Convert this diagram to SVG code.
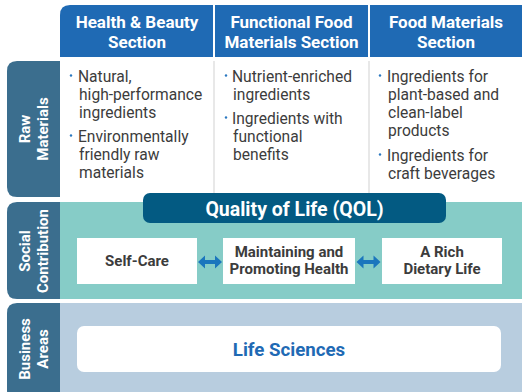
<svg xmlns="http://www.w3.org/2000/svg" width="522" height="392" viewBox="0 0 522 392">
  <defs>
    <style>
      text { font-family: Roboto, "Liberation Sans", Arial, sans-serif; }
      .hdr { fill: #1f6ab4; }
      .hdr-t { fill: #ffffff; font-size: 17px; font-weight: 700; text-anchor: middle; }
      .lbl { fill: #3b6e8e; }
      .lbl-t { fill: #ffffff; font-size: 15px; font-weight: 700; text-anchor: middle; }
      .item { fill: #3c3c3c; font-size: 15.6px; }
      .dot { fill: #2a78c0; }
      .div { stroke: #d9d9d9; stroke-width: 1.2; }
      .box { fill: #ffffff; }
      .box-t { fill: #3c3c3c; font-size: 15px; font-weight: 700; text-anchor: middle; }
      .arrow { fill: #1b76bd; }
    </style>
    <!-- double-headed arrow centred on the origin -->
    <path id="dbl" class="arrow" d="M-12,0 L-5,-6.5 L-5,-2 L5,-2 L5,-6.5 L12,0 L5,6.5 L5,2 L-5,2 L-5,6.5 Z"/>
  </defs>

  <rect width="522" height="392" fill="#ffffff"/>

  <!-- section headers -->
  <g id="header-health-beauty">
    <path class="hdr" d="M60,57 L60,15 Q60,5 70,5 L213,5 L213,57 Z"/>
    <text class="hdr-t" x="137" y="28">Health &amp; Beauty</text>
    <text class="hdr-t" x="137" y="48">Section</text>
  </g>
  <g id="header-functional-food">
    <rect class="hdr" x="215" y="5" width="153" height="52"/>
    <text class="hdr-t" x="291.5" y="28">Functional Food</text>
    <text class="hdr-t" x="291.5" y="48">Materials Section</text>
  </g>
  <g id="header-food-materials">
    <rect class="hdr" x="370" y="5" width="152" height="52"/>
    <text class="hdr-t" x="446" y="28">Food Materials</text>
    <text class="hdr-t" x="446" y="48">Section</text>
  </g>

  <!-- row labels -->
  <g id="label-raw-materials">
    <path class="lbl" d="M60,61 L60,197 L17,197 Q7,197 7,187 L7,71 Q7,61 17,61 Z"/>
    <text class="lbl-t" transform="translate(30,129) rotate(-90)" x="0" y="0">Raw</text>
    <text class="lbl-t" transform="translate(48,129) rotate(-90)" x="0" y="0">Materials</text>
  </g>
  <g id="label-social-contribution">
    <path class="lbl" d="M60,202 L60,299 L17,299 Q7,299 7,289 L7,212 Q7,202 17,202 Z"/>
    <text class="lbl-t" transform="translate(30,251) rotate(-90)" x="0" y="0">Social</text>
    <text class="lbl-t" transform="translate(48,251) rotate(-90)" x="0" y="0">Contribution</text>
  </g>
  <g id="label-business-areas">
    <path class="lbl" d="M60,303 L60,400 L17,400 Q7,400 7,390 L7,313 Q7,303 17,303 Z"/>
    <text class="lbl-t" transform="translate(30,349) rotate(-90)" x="0" y="0">Business</text>
    <text class="lbl-t" transform="translate(48,349) rotate(-90)" x="0" y="0">Areas</text>
  </g>

  <!-- raw material columns -->
  <g id="raw-columns">
    <line class="div" x1="214" y1="61" x2="214" y2="194"/>
    <line class="div" x1="369" y1="61" x2="369" y2="194"/>
  </g>
  <g id="raw-health-beauty">
    <circle class="dot" cx="71" cy="75.5" r="1.2"/>
    <text class="item" x="78" y="82">Natural,</text>
    <text class="item" x="79" y="100">high-performance</text>
    <text class="item" x="79" y="118">ingredients</text>
    <circle class="dot" cx="71" cy="135.5" r="1.2"/>
    <text class="item" x="78" y="142">Environmentally</text>
    <text class="item" x="79" y="160">friendly raw</text>
    <text class="item" x="79" y="178">materials</text>
  </g>
  <g id="raw-functional-food">
    <circle class="dot" cx="226" cy="75.5" r="1.2"/>
    <text class="item" x="232" y="82">Nutrient-enriched</text>
    <text class="item" x="233" y="100">ingredients</text>
    <circle class="dot" cx="226" cy="117.5" r="1.2"/>
    <text class="item" x="232" y="124">Ingredients with</text>
    <text class="item" x="233" y="142">functional</text>
    <text class="item" x="233" y="160">benefits</text>
  </g>
  <g id="raw-food-materials">
    <circle class="dot" cx="380" cy="75.5" r="1.2"/>
    <text class="item" x="387" y="82">Ingredients for</text>
    <text class="item" x="388" y="100">plant-based and</text>
    <text class="item" x="388" y="118">clean-label</text>
    <text class="item" x="388" y="136">products</text>
    <circle class="dot" cx="380" cy="154.5" r="1.2"/>
    <text class="item" x="387" y="161">Ingredients for</text>
    <text class="item" x="388" y="179">craft beverages</text>
  </g>

  <!-- social contribution band -->
  <rect x="60" y="202" width="462" height="97" fill="#86ccc7"/>
  <g id="qol">
    <rect x="143" y="193" width="303" height="30" rx="7" fill="#035a82"/>
    <text x="294.5" y="216" fill="#ffffff" font-size="19.5" font-weight="700" text-anchor="middle">Quality of Life (QOL)</text>
  </g>
  <g id="self-care">
    <rect class="box" x="77" y="238" width="120" height="46"/>
    <text class="box-t" x="137" y="266">Self-Care</text>
  </g>
  <g id="health">
    <rect class="box" x="223" y="238" width="132" height="46"/>
    <text class="box-t" x="289" y="257">Maintaining and</text>
    <text class="box-t" x="289" y="274">Promoting Health</text>
  </g>
  <g id="dietary-life">
    <rect class="box" x="382" y="238" width="120" height="46"/>
    <text class="box-t" x="442" y="257">A Rich</text>
    <text class="box-t" x="442" y="274">Dietary Life</text>
  </g>
  <g id="connectors">
    <use href="#dbl" x="210" y="262"/>
    <use href="#dbl" x="368.5" y="262"/>
  </g>

  <!-- business area band -->
  <rect x="60" y="303" width="462" height="89" fill="#b8cddf"/>
  <g id="life-sciences">
    <rect x="77" y="326" width="424" height="46" rx="7" fill="#ffffff"/>
    <text x="289" y="356" fill="#1f6ab4" font-size="18.7" font-weight="700" text-anchor="middle">Life Sciences</text>
  </g>
</svg>
